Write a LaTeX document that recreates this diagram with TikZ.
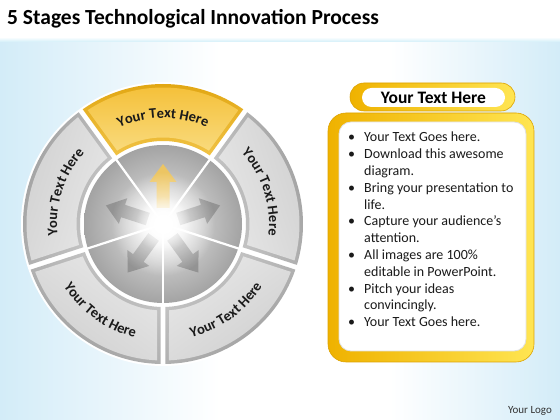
\documentclass[tikz,border=0pt]{standalone}
\usepackage{fontspec}
\setmainfont{Carlito}
\usetikzlibrary{decorations.text,fadings}

\definecolor{bgblue}{HTML}{D3ECF8}
\definecolor{bgline}{HTML}{D2EFF9}
\definecolor{bandout}{HTML}{9C9C9C}
\definecolor{bandin}{HTML}{CACACA}
\definecolor{fillout}{HTML}{D0D0D0}
\definecolor{fillin}{HTML}{E7E7E7}
\definecolor{ybandout}{HTML}{E0A40E}
\definecolor{ybandin}{HTML}{F0C244}
\definecolor{yfillout}{HTML}{F4BE33}
\definecolor{yfillin}{HTML}{F9DA7C}
\definecolor{goldL}{HTML}{EFB200}
\definecolor{goldR}{HTML}{FFE552}
\definecolor{goldD}{HTML}{DDA200}
\definecolor{arrowgray}{HTML}{8A8A8A}
\definecolor{arrowyel}{HTML}{F2C75A}
\definecolor{txt}{HTML}{1A1A1A}
\definecolor{logo}{HTML}{333333}

\pgfdeclareradialshading{discshade}{\pgfpoint{0bp}{0bp}}{color(0bp)=(white); color(3bp)=(white); color(9bp)=(white!85!black); color(16bp)=(white!74!black); color(25bp)=(white!64!black); color(50bp)=(white!64!black)}
\tikzfading[name=glowfade, inner color=transparent!0, outer color=transparent!100]

% annular sector: direction, outer radius, inner radius, half gap
\newcommand\sectorpath[4]{({#1+36-asin(#4/#2)}:#2pt) arc[start angle={#1+36-asin(#4/#2)}, end angle={#1-36+asin(#4/#2)}, radius=#2pt] -- ({#1-36+asin(#4/#3)}:#3pt) arc[start angle={#1-36+asin(#4/#3)}, end angle={#1+36-asin(#4/#3)}, radius=#3pt] -- cycle}
\newcommand\segfont{\fontsize{14.5}{14.5}\selectfont\bfseries\color{txt}}

\tikzset{
  bodytext/.style={anchor=base west, inner sep=0pt, font=\fontsize{14}{16}\selectfont, text=txt},
  boxnode/.style={rectangle, inner sep=0pt, outer sep=0pt},
}

\begin{document}
\begin{tikzpicture}[x=1pt,y=1pt]
\useasboundingbox (0,0) rectangle (560,420);
% background
\fill[white] (0,0) rectangle (560,420);
\shade[left color=bgblue, right color=white] (0,0) rectangle (220,382);
\shade[left color=white, right color=bgblue] (390,0) rectangle (560,382);
\shade[top color=white, bottom color=bgline] (0,378) rectangle (560,383);

% title
\node[anchor=base west, inner sep=0pt, font=\fontsize{21.5}{24}\selectfont\bfseries, text=black] (title) at (7,395) {5 Stages Technological Innovation Process};

% wheel
\begin{scope}[shift={(163,196)}]
  \fill[white] (0,0) circle[radius=142pt];
  \foreach \d in {162,18,-54,234}{
    \pgfmathsetmacro\sa{\d-90}
    \shade[top color=bandout, bottom color=bandin, shading angle=\sa] \sectorpath{\d}{140}{83}{2.5};
    \shade[top color=fillout, bottom color=fillin, shading angle=\sa] \sectorpath{\d}{136.5}{86.5}{6};
  }
  \shade[top color=ybandout, bottom color=ybandin] \sectorpath{90}{140}{83}{2.5};
  \shade[top color=yfillout, bottom color=yfillin] \sectorpath{90}{136.5}{86.5}{6};

  % inner disc
  \shade[shading=discshade] (0,0) circle[radius=79pt];
  \foreach \a in {54,126,198,270,342}
    \draw[white, line width=2.2pt] (0,0) -- (\a:80pt);

  % arrows
  \foreach \a in {162,18,-54,234}
    \fill[arrowgray, opacity=0.8, rotate=\a] (16,-6.5) -- (42,-6.5) -- (42,-13.5) -- (60,0) -- (42,13.5) -- (42,6.5) -- (16,6.5) -- cycle;
  \fill[arrowyel, opacity=0.9, rotate=90] (16,-6.5) -- (42,-6.5) -- (42,-13.5) -- (60,0) -- (42,13.5) -- (42,6.5) -- (16,6.5) -- cycle;
  % glow
  \fill[white, path fading=glowfade] (0,0) circle[radius=52pt];
  \fill[white, path fading=glowfade] (0,0) circle[radius=28pt];

  % curved labels
  \path[decorate, decoration={text along path, text={|\segfont|Your Text Here}, text align=center}]
    (124:106pt) arc[start angle=124, end angle=56, radius=106pt];
  \path[decorate, decoration={text along path, text={|\segfont|Your Text Here}, text align=center}]
    (52:106pt) arc[start angle=52, end angle=-16, radius=106pt];
  \path[decorate, decoration={text along path, text={|\segfont|Your Text Here}, text align=center}]
    (196:106pt) arc[start angle=196, end angle=128, radius=106pt];
  \path[decorate, decoration={text along path, text={|\segfont|Your Text Here}, text align=center}]
    (200:117pt) arc[start angle=200, end angle=268, radius=117pt];
  \path[decorate, decoration={text along path, text={|\segfont|Your Text Here}, text align=center}]
    (272:117pt) arc[start angle=272, end angle=340, radius=117pt];
\end{scope}

% right panel
\node[boxnode, rounded corners=18pt, minimum width=206pt, minimum height=249pt, left color=goldL, right color=goldR, draw=goldD, line width=0.6pt] (panel) at (431,182.5) {};
\node[boxnode, rounded corners=12pt, minimum width=187pt, minimum height=229pt, fill=white, draw=black!12, line width=0.8pt] (panelin) at (432.5,183.5) {};
\node[boxnode, rounded corners=14pt, minimum width=165pt, minimum height=28pt, left color=goldL, right color=goldR, draw=goldD, line width=0.6pt] (pill) at (432.5,323) {};
\node[boxnode, rounded corners=9.5pt, minimum width=143pt, minimum height=19pt, fill=white] (pillin) at (433.5,322.5) {};
\node[inner sep=0pt, font=\fontsize{17.5}{18}\selectfont\bfseries, text=black] (head) at (433.5,322.5) {Your Text Here};

\foreach \b/\t [count=\i] in {1/Your Text Goes here., 1/Download this awesome, 0/diagram., 1/Bring your presentation to, 0/life., 1/Capture your audience’s, 0/attention., 1/All images are 100\%, 0/editable in PowerPoint., 1/Pitch your ideas, 0/convincingly., 1/Your Text Goes here.}{
  \pgfmathsetmacro\yy{278-(\i-1)*16.8}
  \node[bodytext] (line\i) at (364,\yy) {\t};
  \ifnum\b=1 \node[bodytext] (bul\i) at (348,\yy) {\textbullet}; \fi
}

\node[inner sep=0pt, font=\fontsize{11}{12}\selectfont, text=logo] (logo) at (530,9) {Your Logo};
\end{tikzpicture}
\end{document}
